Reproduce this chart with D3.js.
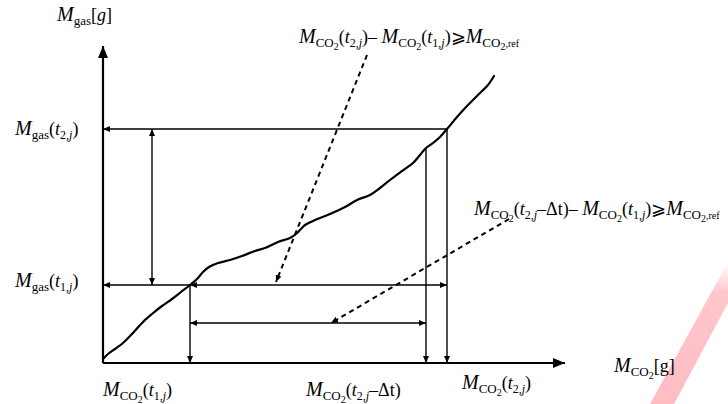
<!DOCTYPE html>
<html>
<head>
<meta charset="utf-8">
<script src="https://cdn.jsdelivr.net/npm/d3@7/dist/d3.min.js"></script>
<style>
  html, body { margin: 0; padding: 0; background: #fff; }
  svg { display: block; }
  text { font-family: "Liberation Serif", "Times New Roman", serif; fill: #000; }
</style>
</head>
<body>
<svg id="chart" width="728" height="404"></svg>
<script>
// Cumulative gas mass against cumulative CO2 mass (g)
const co2Mass = [0, 5, 12, 20, 30, 40, 49, 59, 69, 78, 87, 94, 100, 106, 115, 127, 139, 152, 162, 175,
  187, 193, 197, 202, 212, 227, 242, 254, 267, 277, 287, 299, 310, 317, 323, 330, 337, 344, 354, 364, 377, 385, 391];
const gasMass = [4, 9, 14, 20, 30, 41, 49, 57, 64, 71, 78, 84, 91, 96, 100, 103, 107, 112, 115, 121,
  125, 129, 133, 138, 143, 149, 156, 163, 168, 175, 183, 192, 200, 208, 215, 220, 226, 234, 246, 257, 270, 278, 287];

// Reference instants on the curve: t1,j ; t2,j − Δt ; t2,j
const markCO2 = [87, 323, 344];
const markGas = [78, 215, 234];

const axisMax = [462, 317];

const svg = d3.select("#chart");
const x = d3.scaleLinear().domain([0, axisMax[0]]).range([103, 565]);
const y = d3.scaleLinear().domain([0, axisMax[1]]).range([363, 46]);

// Arrowhead markers
const defs = svg.append("defs");
function marker(id, len, wid) {
  defs.append("marker")
    .attr("id", id)
    .attr("viewBox", `0 0 ${len} ${wid}`)
    .attr("refX", len).attr("refY", wid / 2)
    .attr("markerWidth", len).attr("markerHeight", wid)
    .attr("markerUnits", "userSpaceOnUse")
    .attr("orient", "auto-start-reverse")
    .append("path")
    .attr("d", `M0,0L${len},${wid / 2}L0,${wid}Z`)
    .attr("fill", "#000");
}
marker("big", 12, 10);
marker("small", 7, 6);

// Pale diagonal band in the lower right corner
const grad = defs.append("linearGradient").attr("id", "band")
  .attr("x1", 0).attr("y1", 0).attr("x2", 0).attr("y2", 1);
grad.append("stop").attr("offset", "0%").attr("stop-color", "#ffbcc3").attr("stop-opacity", 0);
grad.append("stop").attr("offset", "22%").attr("stop-color", "#ffbcc3").attr("stop-opacity", 0.85);
grad.append("stop").attr("offset", "100%").attr("stop-color", "#ffbcc3").attr("stop-opacity", 1);
svg.append("path")
  .attr("d", "M650,404L674,404L728,303L728,262Z")
  .attr("fill", "url(#band)");

// Axes
svg.append("line")
  .attr("x1", x(0)).attr("y1", y(0)).attr("x2", x(axisMax[0])).attr("y2", y(0))
  .attr("stroke", "#000").attr("stroke-width", 2.2).attr("marker-end", "url(#big)");
svg.append("line")
  .attr("x1", x(0)).attr("y1", y(0)).attr("x2", x(0)).attr("y2", y(axisMax[1]))
  .attr("stroke", "#000").attr("stroke-width", 2.2).attr("marker-end", "url(#big)");

// Guide lines with arrows
function guide(x1, y1, x2, y2, start, end) {
  const l = svg.append("line")
    .attr("x1", x(x1)).attr("y1", y(y1)).attr("x2", x(x2)).attr("y2", y(y2))
    .attr("stroke", "#000").attr("stroke-width", 1.4);
  if (start) l.attr("marker-start", "url(#small)");
  if (end) l.attr("marker-end", "url(#small)");
}
const [c1, cd, c2] = markCO2;
const [g1, gd, g2] = markGas;

guide(c2, g2, 0, g2, false, true);           // M_gas(t2,j) to the y axis
guide(c1, g1, 0, g1, false, true);           // M_gas(t1,j) to the y axis
guide(c1, g1, c2, g1, true, true);           // CO2 span t1 → t2
guide(c1, g1, c1, 0, false, true);           // drop at t1,j
guide(cd, gd, cd, 0, false, true);           // drop at t2,j − Δt
guide(c2, g2, c2, 0, false, true);           // drop at t2,j
guide(c1, 40, cd, 40, true, true);           // CO2 span t1 → t2 − Δt
guide(49, g2, 49, g1, true, true);           // gas span t1 → t2

// Dashed pointers to the two conditions
function pointer(x1, y1, x2, y2) {
  svg.append("line")
    .attr("x1", x(x1)).attr("y1", y(y1)).attr("x2", x(x2)).attr("y2", y(y2))
    .attr("stroke", "#000").attr("stroke-width", 2)
    .attr("stroke-dasharray", "5,4")
    .attr("marker-end", "url(#small)");
}
pointer(264, 308, 173, 81);
pointer(406, 144, 228, 40);

// Measured curve
svg.append("path")
  .datum(d3.zip(co2Mass, gasMass))
  .attr("d", d3.line().x(d => x(d[0])).y(d => y(d[1])).curve(d3.curveCatmullRom))
  .attr("fill", "none").attr("stroke", "#000").attr("stroke-width", 2.2)
  .attr("stroke-linejoin", "round").attr("stroke-linecap", "round");

// Math labels built from runs: [text, size, baseline offset, italic]
function label(px, py, runs) {
  const t = svg.append("text").attr("x", px).attr("y", py);
  let prev = 0;
  runs.forEach(([s, size, off, it]) => {
    t.append("tspan")
      .attr("dy", off - prev)
      .attr("font-size", size)
      .attr("font-style", it ? "italic" : "normal")
      .text(s);
    prev = off;
  });
}
const M = ["M", 20, 0, true];
const gasSub = ["gas", 13, 4, false];
const co2Sub = [["CO", 13, 4, false], ["2", 10, 7, false]];
const par = s => [s, 18, 0, false];
const tIdx = (n) => [["t", 18, 0, true], [n + ",", 12, 4, false], ["j", 12, 4, true]];
const refSub = [",ref", 10, 4, false];

label(57, 21, [M, gasSub, par("["), ["g", 18, 0, true], par("]")]);
label(15, 135, [M, gasSub, par("("), ...tIdx(2), par(")")]);
label(15, 287, [M, gasSub, par("("), ...tIdx(1), par(")")]);
label(103, 396, [M, ...co2Sub, par("("), ...tIdx(1), par(")")]);
label(306, 396, [M, ...co2Sub, par("("), ...tIdx(2), par("–Δt)")]);
label(462, 389, [M, ...co2Sub, par("("), ...tIdx(2), par(")")]);
label(614, 372, [M, ...co2Sub, par("[g]")]);
label(299, 43, [M, ...co2Sub, par("("), ...tIdx(2), par(")– "), M, ...co2Sub, par("("), ...tIdx(1), par(")⩾"),
  M, ...co2Sub, refSub]);
label(474, 215, [M, ...co2Sub, par("("), ...tIdx(2), par("–Δt)– "), M, ...co2Sub, par("("), ...tIdx(1), par(")⩾"),
  M, ...co2Sub, refSub]);
</script>
</body>
</html>
